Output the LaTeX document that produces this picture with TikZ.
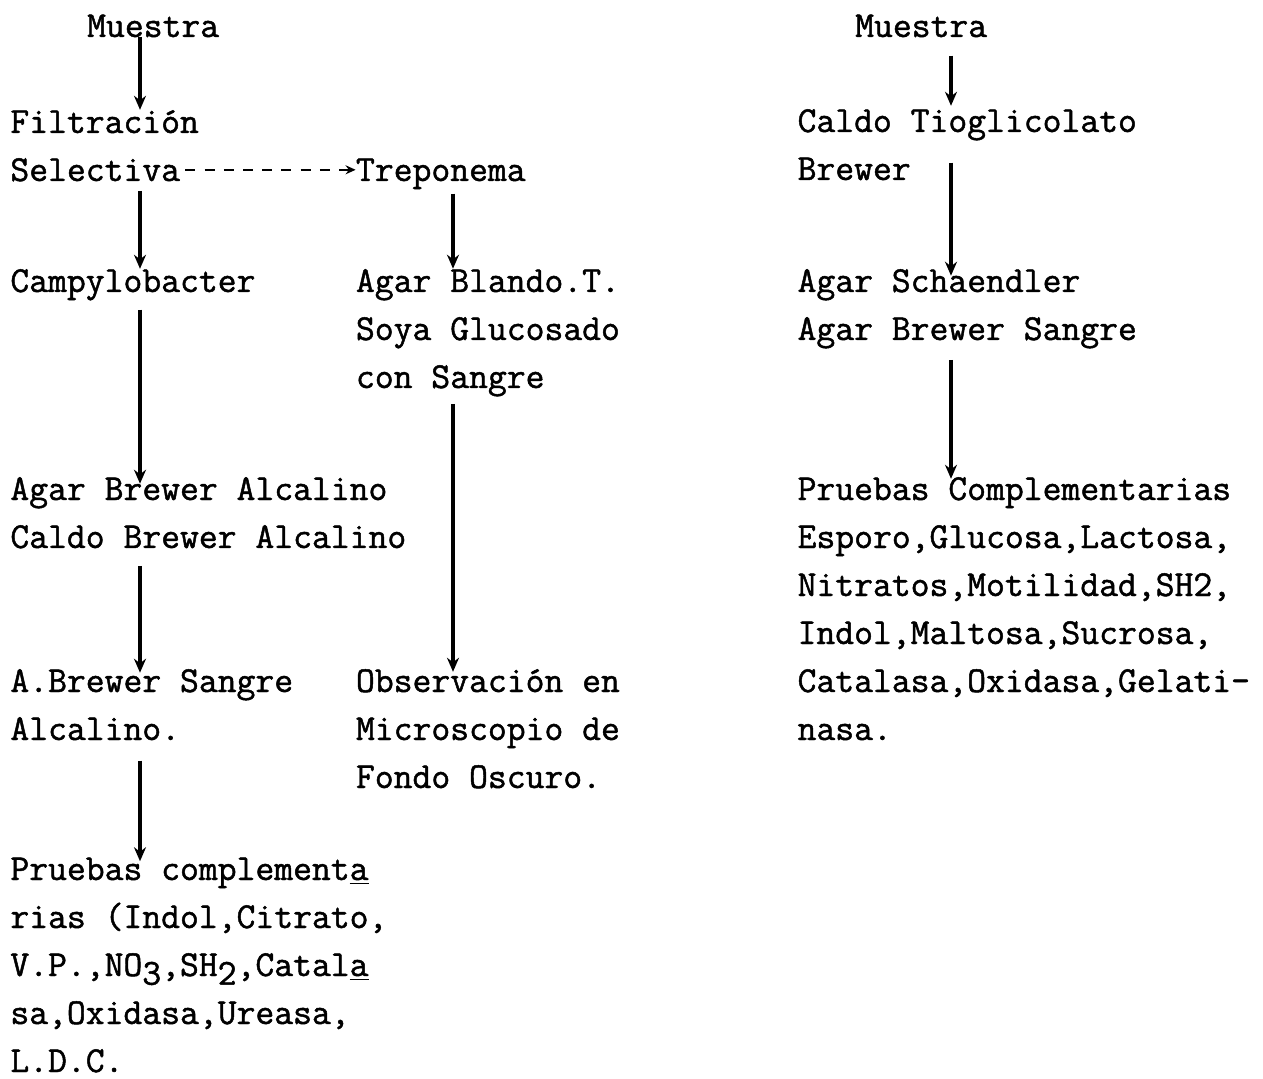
\documentclass[tikz,border=0pt]{standalone}
\usepackage{fontspec}
\newfontfamily\typew[FakeBold=1.3]{Latin Modern Mono}
\usepackage{tikz}
\usetikzlibrary{arrows.meta}
\newcommand{\lowr}[1]{\raisebox{-0.55ex}{#1}}
\tikzstyle{txt} = [inner sep=0pt, anchor=base west, align=left, font=\typew\fontsize{18.3}{24}\selectfont]
\tikzstyle{flow} = [line width=1.6pt,-{Stealth[length=7pt,width=6pt]}]
\tikzstyle{side} = [line width=1pt,dash pattern=on 5pt off 4.6pt,-{Stealth[length=5pt,width=4.5pt]}]

\begin{document}
\begin{tikzpicture}[x=0.5pt,y=-0.5pt]
\useasboundingbox (0,0) rectangle (1263,1079);
\coordinate (xa) at (140,0);
\coordinate (xb) at (453,0);
\coordinate (xc) at (951,0);

% left: Campylobacter / Treponema (base = last line)
\node (muestraA) [txt] at (86.8,37) {Muestra};
\node (filt) [txt] at (10,133) {Filtración};
\node (sel) [txt] at (10,181) {Selectiva};
\node (trep) [txt] at (355.6,181) {Treponema};
\node (campy) [txt] at (10,292) {Campylobacter};
\node (blando) [txt] at (355.6,388) {Agar Blando.T.\\Soya Glucosado\\con Sangre};
\node (brewA) [txt] at (10,548) {Agar Brewer Alcalino\\Caldo Brewer Alcalino};
\node (sangreA) [txt] at (10,740) {A.Brewer Sangre\\Alcalino.};
\node (obs) [txt] at (355.6,788) {Observación en\\Microscopio de\\Fondo Oscuro.};
\node (pruebasA) [txt] at (10,1072) {Pruebas complement\underline{a}\\rias (Indol,Citrato,\\V.P.,NO\lowr{3},SH\lowr{2},Catal\underline{a}\\sa,Oxidasa,Ureasa,\\L.D.C.};

% right: second sample
\node (muestraB) [txt] at (854.8,37) {Muestra};
\node (tiog) [txt] at (797.2,180) {Caldo Tioglicolato\\Brewer};
\node (schaen) [txt] at (797.2,340) {Agar Schaendler\\Agar Brewer Sangre};
\node (pruebasB) [txt] at (797.2,740) {Pruebas Complementarias\\Esporo,Glucosa,Lactosa,\\Nitratos,Motilidad,SH2,\\Indol,Maltosa,Sucrosa,\\Catalasa,Oxidasa,Gelati-\\nasa.};

\draw [flow] (muestraA.base -| xa) -- (filt.north -| xa);
\draw [flow, shorten <=4.5pt] (sel.south -| xa) -- (campy.north -| xa);
\draw [side, shorten <=2.5pt] (sel.east) -- (sel.east -| trep.west);
\draw [flow, shorten <=2pt] (trep.south -| xb) -- (blando.north -| xb);
\draw [flow, shorten <=4.5pt, shorten >=-3.5pt] (campy.south -| xa) -- (brewA.north -| xa);
\draw [flow, shorten <=3.5pt, shorten >=-1.5pt] (blando.south -| xb) -- (obs.north -| xb);
\draw [flow, shorten <=8.5pt, shorten >=-2pt] (brewA.south -| xa) -- (sangreA.north -| xa);
\draw [flow, shorten <=10pt, shorten >=-2pt] (sangreA.south -| xa) -- (pruebasA.north -| xa);
\draw [flow, shorten <=9pt, shorten >=1.5pt] (muestraB.south -| xc) -- (tiog.north -| xc);
\draw [flow, shorten <=-9pt, shorten >=-3.5pt] (tiog.south -| xc) -- (schaen.north -| xc);
\draw [flow, shorten <=5.5pt, shorten >=-1pt] (schaen.south -| xc) -- (pruebasB.north -| xc);
\end{tikzpicture}
\end{document}
